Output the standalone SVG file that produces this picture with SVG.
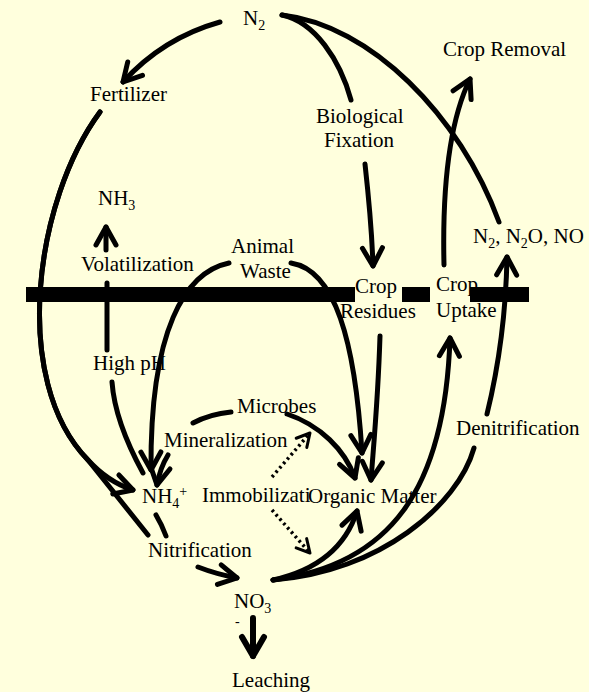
<svg xmlns="http://www.w3.org/2000/svg" width="589" height="692" viewBox="0 0 589 692">
<style>
.t{font-family:"Liberation Serif","Times New Roman",serif;font-size:21px;fill:#000}
.s{font-size:14px}
.c{fill:none;stroke:#000;stroke-width:5;stroke-linecap:round;stroke-linejoin:round}
.d{fill:none;stroke:#000;stroke-width:3.5;stroke-dasharray:2.5 3.3}
.bar{fill:#000}
</style>
<defs>
<marker id="a" markerUnits="userSpaceOnUse" markerWidth="40" markerHeight="40" viewBox="-25 -20 40 40" refX="0" refY="0" orient="auto" overflow="visible">
<path d="M-18,-10 L0,0 L-18,10" fill="none" stroke="#000" stroke-width="5" stroke-linecap="round" stroke-linejoin="round"/>
</marker>
<marker id="al" markerUnits="userSpaceOnUse" markerWidth="40" markerHeight="40" viewBox="-25 -20 40 40" refX="0" refY="0" orient="auto" overflow="visible">
<path d="M-19,-11 L0,0 L-19,11" fill="none" stroke="#000" stroke-width="6" stroke-linecap="round" stroke-linejoin="round"/>
</marker>
<marker id="ad" markerUnits="userSpaceOnUse" markerWidth="30" markerHeight="30" viewBox="-15 -15 30 30" refX="0" refY="0" orient="auto" overflow="visible">
<path d="M-13,-7 L0,0 L-13,7" fill="none" stroke="#000" stroke-width="3" stroke-linecap="round" stroke-linejoin="round"/>
</marker>
</defs>
<rect width="589" height="692" fill="#FFFFDD"/>
<g id="soil-surface">
<rect class="bar" x="26" y="287" width="329" height="15"/>
<rect class="bar" x="402" y="287" width="28" height="15"/>
<rect class="bar" x="470" y="287" width="59" height="15"/>
</g>
<g id="connectors">
<path class="c" d="M220,22 Q163,38 123,82" marker-end="url(#a)"/>
<path class="c" d="M100,112 C35,200 10,380 88,460 Q108,482 133,490" marker-end="url(#a)"/>
<path class="c" d="M100,112 C35,200 10,380 88,460 L148,535"/>
<path class="c" d="M156,515 Q162,525 166,536"/>
<path class="c" d="M198,567 Q216,574 237,578" marker-end="url(#a)"/>
<path class="c" d="M143,473 C125,440 114,410 112,382"/>
<path class="c" d="M107,350 L107,283"/>
<path class="c" d="M106,250 L106,227" marker-end="url(#a)"/>
<path class="c" d="M282,15 C315,22 340,60 351,100"/>
<path class="c" d="M365,164 C369,200 372,235 373,266" marker-end="url(#a)"/>
<path class="c" d="M282,15 C370,25 460,115 499,222"/>
<path class="c" d="M444,265 C442,180 450,120 470,79" marker-end="url(#a)"/>
<path class="c" d="M273,580 C390,565 445,490 450,338" marker-end="url(#a)"/>
<path class="c" d="M273,580 C380,572 458,505 474,448"/>
<path class="c" d="M487,414 C499,365 506,310 507,257" marker-end="url(#a)"/>
<path class="c" d="M380,336 C378,400 374,440 371,480" marker-end="url(#a)"/>
<path class="c" d="M291,263 C335,270 355,340 362,453" marker-end="url(#a)"/>
<path class="c" d="M229,263 C185,272 150,330 151,470" marker-end="url(#a)"/>
<path class="c" d="M231,412 Q210,414 193,423"/>
<path class="c" d="M168,455 Q160,468 157,485" marker-end="url(#a)"/>
<path class="c" d="M287,414 C320,425 345,450 355,478" marker-end="url(#a)"/>
<path class="c" d="M273,580 Q340,565 357,511" marker-end="url(#a)"/>
<path class="d" d="M272,477 L310,433" marker-end="url(#ad)"/>
<path class="d" d="M272,510 L310,553" marker-end="url(#ad)"/>
<path class="c" style="stroke-width:6" d="M253,618 L253,656" marker-end="url(#al)"/>
</g>
<g id="n2-top"><text class="t" x="243" y="25">N<tspan class="s" dy="5">2</tspan></text></g>
<g id="fertilizer"><text class="t" x="90" y="101">Fertilizer</text></g>
<g id="crop-removal"><text class="t" x="443" y="56">Crop Removal</text></g>
<g id="biological-fixation"><text class="t" x="316" y="123">Biological</text><text class="t" x="324" y="147">Fixation</text></g>
<g id="nh3"><text class="t" x="98" y="205">NH<tspan class="s" dy="5">3</tspan></text></g>
<g id="volatilization"><text class="t" x="81" y="271">Volatilization</text></g>
<g id="animal-waste"><text class="t" x="231" y="253">Animal</text><text class="t" x="240" y="278">Waste</text></g>
<g id="crop-residues"><text class="t" x="355" y="293">Crop</text><text class="t" x="340" y="318">Residues</text></g>
<g id="crop-uptake"><text class="t" x="436" y="291">Crop</text><text class="t" x="436" y="317">Uptake</text></g>
<g id="gases"><text class="t" x="473" y="243">N<tspan class="s" dy="5">2</tspan><tspan dy="-5">, N</tspan><tspan class="s" dy="5">2</tspan><tspan dy="-5">O, NO</tspan></text></g>
<g id="high-ph"><text class="t" x="93" y="370">High pH</text></g>
<g id="microbes"><text class="t" x="237" y="413">Microbes</text></g>
<g id="mineralization"><text class="t" x="164" y="447">Mineralization</text></g>
<g id="denitrification"><text class="t" x="456" y="435">Denitrification</text></g>
<g id="nh4"><text class="t" x="142" y="503">NH<tspan class="s" dy="5">4</tspan><tspan class="s" dy="-12">+</tspan></text></g>
<g id="immobilization"><text class="t" x="202" y="502">Immobilizati</text></g>
<g id="organic-matter"><text class="t" x="308" y="503">Organic Matter</text></g>
<g id="nitrification"><text class="t" x="148" y="557">Nitrification</text></g>
<g id="no3"><text class="t" x="234" y="608">NO<tspan class="s" dy="5">3</tspan></text><text class="t s" x="235" y="626">-</text></g>
<g id="leaching"><text class="t" x="232" y="687">Leaching</text></g>
</svg>
